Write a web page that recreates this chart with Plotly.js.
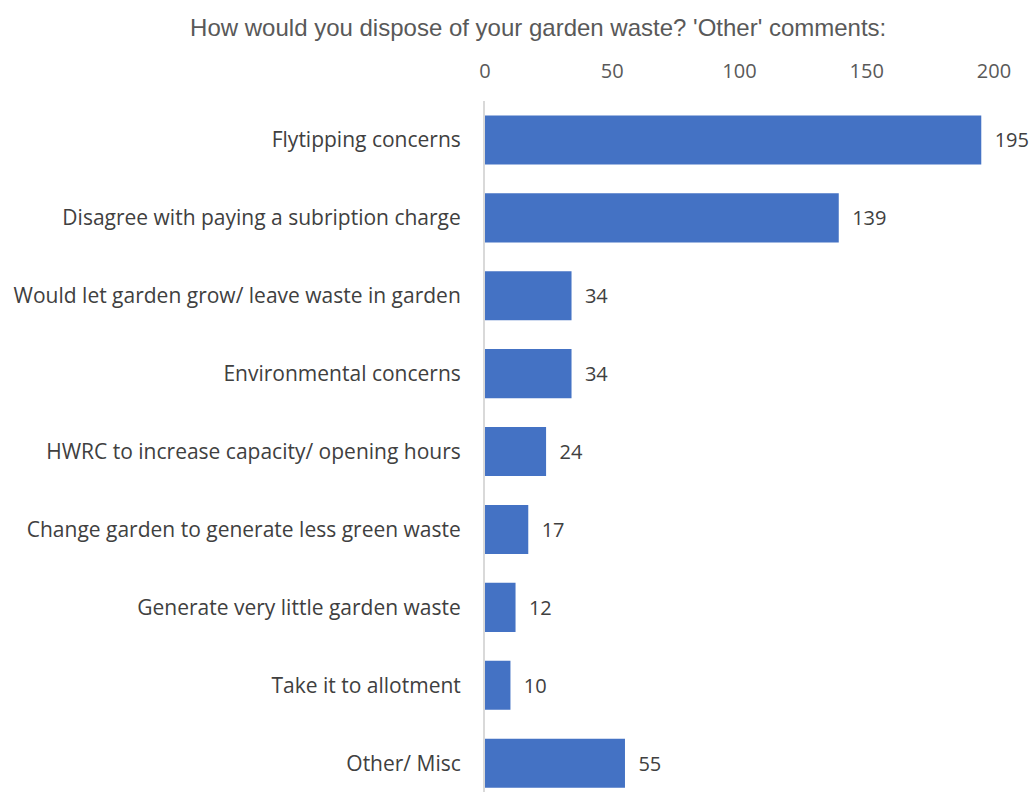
<!DOCTYPE html>
<html>
<head>
<meta charset="utf-8">
<script src="https://cdn.plot.ly/plotly-3.0.1.min.js"></script>
<style>html,body{margin:0;padding:0;background:#fff;}#chart{width:1035px;height:794px;}</style>
</head>
<body>
<div id="chart"></div>
<script>
const categories = [
  "Flytipping concerns",
  "Disagree with paying a subription charge",
  "Would let garden grow/ leave waste in garden",
  "Environmental concerns",
  "HWRC to increase capacity/ opening hours",
  "Change garden to generate less green waste",
  "Generate very little garden waste",
  "Take it to allotment",
  "Other/ Misc"
];
const values = [195, 139, 34, 34, 24, 17, 12, 10, 55];
const xTicks = [0, 50, 100, 150, 200];
const chartTitle = "How would you dispose of your garden waste? 'Other' comments:";

const trace = {
  type: "bar",
  orientation: "h",
  y: categories,
  x: values,
  width: 0.63,
  marker: {color: "#4472C4"},
  text: values.map(v => "\u00a0\u00a0" + v),
  textposition: "outside",
  textfont: {family: "'Open Sans', sans-serif", size: 20, color: "#404040"},
  cliponaxis: false,
  hoverinfo: "x+y"
};

const layout = {
  width: 1035,
  height: 794,
  paper_bgcolor: "#ffffff",
  plot_bgcolor: "#ffffff",
  margin: {l: 485, r: 41, t: 101, b: 2},
  title: {
    text: chartTitle,
    font: {family: "'Liberation Sans', Arial, sans-serif", size: 24, color: "#595959"},
    x: 0.52, xanchor: "center", y: 0.965, yanchor: "middle"
  },
  showlegend: false,
  xaxis: {
    side: "top",
    range: [0, 200],
    tickvals: xTicks,
    ticktext: xTicks.map(String),
    showgrid: false,
    zeroline: false,
    showline: false,
    ticks: "",
    ticklabelstandoff: 18,
    tickfont: {family: "'Open Sans', sans-serif", size: 20, color: "#595959"},
    fixedrange: true
  },
  yaxis: {
    type: "category",
    categoryorder: "array",
    categoryarray: categories,
    range: [8.37, -0.5],
    showgrid: false,
    zeroline: false,
    showline: true,
    linecolor: "#d9d9d9",
    linewidth: 2,
    ticks: "",
    ticklabelstandoff: 18,
    tickfont: {family: "'Open Sans', sans-serif", size: 21, color: "#404040"},
    fixedrange: true
  }
};

Plotly.newPlot("chart", [trace], layout, {displayModeBar: false, staticPlot: true});
</script>
</body>
</html>
